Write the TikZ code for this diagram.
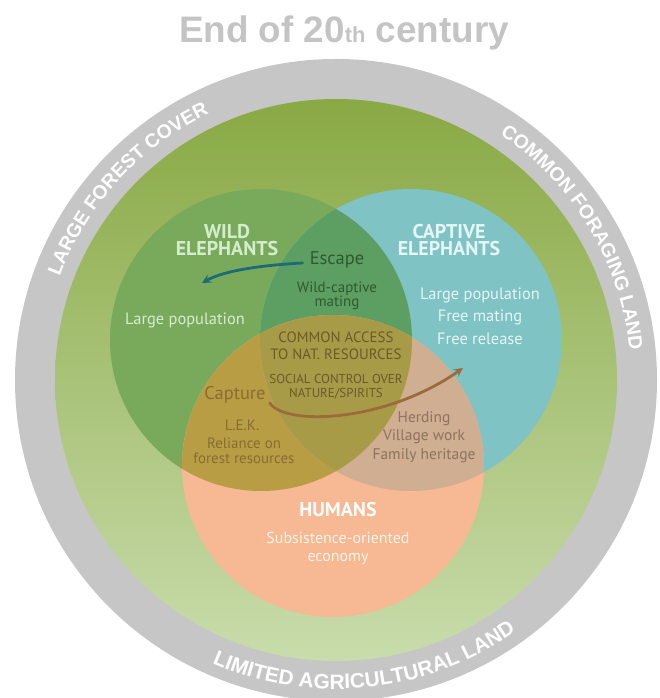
\documentclass[tikz,border=0pt]{standalone}
\usepackage{fontspec}
\setmainfont{PT Sans}
\newfontfamily\arialfam{Liberation Sans}
\usetikzlibrary{decorations.text,arrows.meta}

\definecolor{ringgray}{HTML}{C6C6C6}
\definecolor{greentop}{HTML}{89A944}
\definecolor{greenbot}{HTML}{C9DCAC}
\definecolor{wildc}{HTML}{79AA5C}
\definecolor{captc}{HTML}{7FC3C4}
\definecolor{humc}{HTML}{F6B993}
\definecolor{wcc}{HTML}{5D9E62}
\definecolor{whc}{HTML}{B99D45}
\definecolor{chc}{HTML}{CFAE91}
\definecolor{wchc}{HTML}{A89B48}
\definecolor{titlegray}{HTML}{C4C4C4}
\definecolor{wildtxt}{HTML}{D6ECCF}
\definecolor{capttxt}{HTML}{E6F5F5}
\definecolor{darkgreen}{HTML}{2D5A2F}
\definecolor{olivetxt}{HTML}{6A5A2A}
\definecolor{capturetxt}{HTML}{8A6C30}
\definecolor{lektxt}{HTML}{856D32}
\definecolor{herdtxt}{HTML}{8E735F}
\definecolor{subsisttxt}{HTML}{FFF4EC}
\definecolor{escarrow}{HTML}{1B6B78}
\definecolor{caparrow}{HTML}{9B6B3C}

\begin{document}
\begin{tikzpicture}[x=1bp,y=1bp,
  lbl/.style={inner sep=0pt, align=center},
  headfont/.style={font=\fontsize{20}{17.5}\selectfont\bfseries},
  ringtext/.style={decorate, decoration={text along path, text align=center,
     text color=white, text format delimiters={|}{|}}},
  arrowline/.style={line width=2.8bp, line cap=round, -{Stealth[length=9bp,width=9bp,inset=3.5bp]}}
]
\useasboundingbox (0,0) rectangle (660,698);

% outer ring and green field
\coordinate (O) at (336,318);
\fill[ringgray] (O) circle[radius=321];
\shade[top color=greentop, bottom color=greenbot] (O) circle[radius=281];

% ring texts
\path[ringtext, decoration={text={|\arialfam\bfseries\fontsize{19.5}{19.5}\selectfont|LARGE FOREST COVER}}]
  (O) ++(172.5:295) arc[start angle=172.5, end angle=102.5, radius=295];
\path[ringtext, decoration={text={|\arialfam\bfseries\fontsize{19.5}{19.5}\selectfont|COMMON FORAGING LAND}}]
  (O) ++(66:295) arc[start angle=66, end angle=-4, radius=295];
\path[ringtext, decoration={text={|\arialfam\bfseries\fontsize{21}{21}\selectfont|LIMITED AGRICULTURAL LAND}}]
  (O) ++(236:309) arc[start angle=236, end angle=316, radius=309];

% Venn circles
\coordinate (W) at (261,358);
\coordinate (C) at (411,358);
\coordinate (H) at (333,232);
\fill[wildc] (W) circle[radius=151];
\fill[captc] (C) circle[radius=151];
\fill[humc] (H) circle[radius=151];
\begin{scope}
  \clip (W) circle[radius=151];
  \fill[wcc] (C) circle[radius=151];
  \fill[whc] (H) circle[radius=151];
\end{scope}
\begin{scope}
  \clip (C) circle[radius=151];
  \fill[chc] (H) circle[radius=151];
\end{scope}
\begin{scope}
  \clip (W) circle[radius=151];
  \clip (C) circle[radius=151];
  \fill[wchc] (H) circle[radius=151];
\end{scope}

% title
\node[lbl, anchor=base, text=titlegray] (title) at (344,655)
  {\arialfam\bfseries\fontsize{37}{37}\selectfont End of 20{\fontsize{22}{22}\selectfont th} century};

% headings
\node[lbl, headfont, text=wildtxt] (wild) at (227,458) {WILD\\ELEPHANTS};
\node[lbl, headfont, text=capttxt] (capt) at (449,458) {CAPTIVE\\ELEPHANTS};
\node[lbl, headfont, text=white] (hum) at (338,188) {HUMANS};

% wild / captive texts
\node[lbl, text=darkgreen, font=\fontsize{18.5}{18.5}\selectfont] (escape) at (337,438) {Escape};
\node[lbl, text=darkgreen, font=\fontsize{15}{13.5}\selectfont] (wcm) at (337,402) {Wild-captive\\mating};
\node[lbl, text=wildtxt, font=\fontsize{16.5}{16.5}\selectfont] (wpop) at (185,378) {Large population};
\node[lbl, text=capttxt, font=\fontsize{16.5}{22.5}\selectfont] (cpop) at (480,382)
  {Large population\\Free mating\\Free release};

% centre texts
\node[lbl, text=olivetxt, font=\fontsize{15}{17}\selectfont] (access) at (336,352)
  {COMMON ACCESS\\TO NAT. RESOURCES};
\node[lbl, text=olivetxt, font=\fontsize{13}{14}\selectfont] (social) at (336,311)
  {SOCIAL CONTROL OVER\\NATURE/SPIRITS};

% humans-side texts
\node[lbl, text=capturetxt, font=\fontsize{18.5}{18.5}\selectfont] (capture) at (235,303) {Capture};
\node[lbl, text=lektxt, font=\fontsize{15}{15}\selectfont] (lek) at (242,273) {L.E.K.};
\node[lbl, text=lektxt, font=\fontsize{15}{14.5}\selectfont] (reliance) at (244,247)
  {Reliance on\\forest resources};
\node[lbl, text=herdtxt, font=\fontsize{15.5}{18.5}\selectfont] (herd) at (424,261)
  {Herding\\Village work\\Family heritage};
\node[lbl, text=subsisttxt, font=\fontsize{16}{18}\selectfont] (subsist) at (338,150)
  {Subsistence-oriented\\economy};

% arrows
\coordinate (esctip) at (202,415);
\draw[arrowline, draw=escarrow, color=escarrow]
  ([shift={(-7,-3)}]escape.west) .. controls (265,433) and (225,428) .. (esctip);
\coordinate (captip) at (463,330);
\draw[arrowline, draw=caparrow, color=caparrow]
  ([shift={(4,-8)}]capture.east) .. controls (285,272) and (385,275) .. (captip);
\end{tikzpicture}
\end{document}
